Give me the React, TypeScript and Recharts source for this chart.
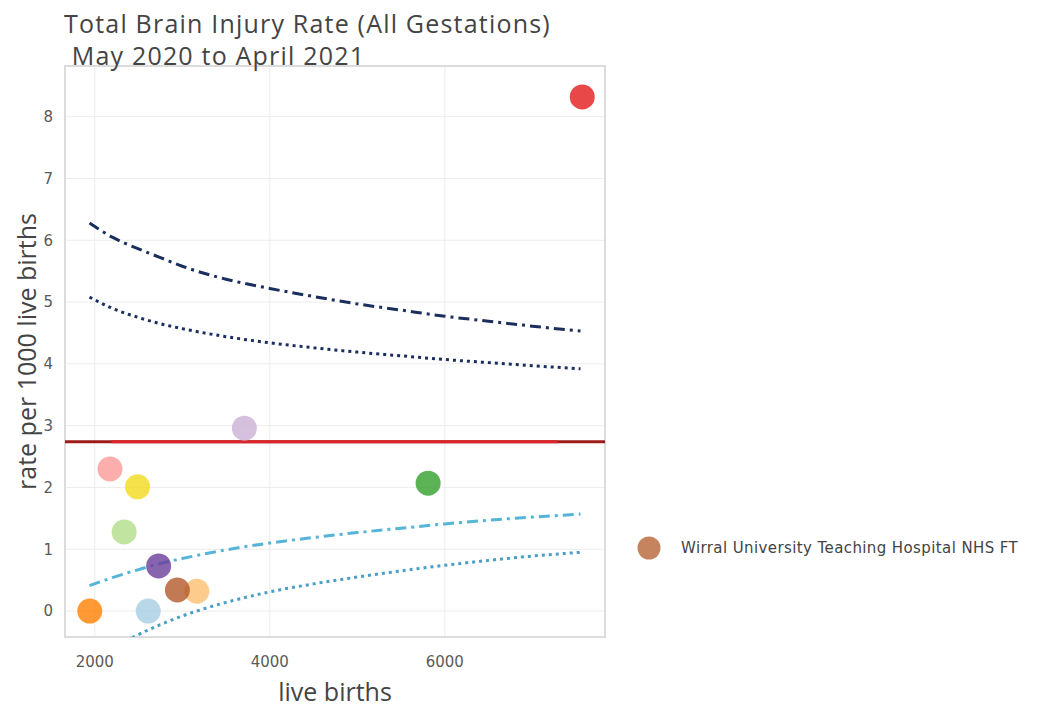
import React from "react";
import {
  ComposedChart,
  Scatter,
  Line,
  XAxis,
  YAxis,
  CartesianGrid,
  ReferenceLine,
  ReferenceArea,
  Cell,
} from "recharts";

// Units: live births vs brain injury rate per 1000 live births
const liveBirths = [1943, 2174, 2336, 2489, 2611, 2730, 3166, 3710, 5809, 7570];
const injuryRates = [0, 2.3, 1.28, 2.01, 0, 0.73, 0.32, 2.96, 2.07, 8.32];
const dotColours = [
  "#ff7f00",
  "#fb9a99",
  "#b2df8a",
  "#f2d91b",
  "#a6cee3",
  "#6a3d9a",
  "#fdbf6f",
  "#cab2d6",
  "#33a02c",
  "#e31a1c",
];

// Highlighted trust
const wirralName = "Wirral University Teaching Hospital NHS FT";
const wirralBirths = 2944;
const wirralRate = 0.34;
const wirralColour = "#b15928";

// National mean rate
const meanRate = 2.74;

// Funnel control limits
const funnelBirths = [1940, 2200, 2500, 2750, 3000, 3500, 4000, 4500, 5000, 5500, 6000, 6500, 7000, 7550];
const upper998 = [6.28, 6.05, 5.86, 5.72, 5.58, 5.37, 5.22, 5.09, 4.97, 4.87, 4.77, 4.69, 4.61, 4.53];
const upper95 = [5.08, 4.9, 4.75, 4.65, 4.57, 4.44, 4.34, 4.26, 4.19, 4.13, 4.07, 4.02, 3.97, 3.92];
const lower95 = [0.41, 0.54, 0.67, 0.77, 0.85, 0.99, 1.1, 1.19, 1.27, 1.34, 1.41, 1.47, 1.52, 1.57];
const lower998 = [-0.82, -0.61, -0.38, -0.22, -0.08, 0.14, 0.31, 0.44, 0.55, 0.65, 0.74, 0.82, 0.89, 0.95];

const xTicks = [2000, 4000, 6000];
const yTicks = [0, 1, 2, 3, 4, 5, 6, 7, 8];

const X_MIN = 1660;
const X_MAX = 7830;
const Y_MIN = -0.42;
const Y_MAX = 8.82;

const units = liveBirths.map((x, i) => ({ x, y: injuryRates[i] }));
const wirral = [{ x: wirralBirths, y: wirralRate }];
const funnel = (vals: number[]) => funnelBirths.map((x, i) => ({ x, y: vals[i] }));

const Dot = (props: any) => (
  <circle cx={props.cx} cy={props.cy} r={12.5} fill={props.fill} fillOpacity={0.8} />
);

const tickStyle = { fontFamily: "DejaVu Sans", fontSize: 15, fill: "#5a5a5a" };
const titleFont = { fontFamily: "Open Sans", fontSize: 25, fill: "#444" };

export default function App() {
  return (
    <div style={{ position: "relative", margin: -8, width: 1049, height: 719, background: "#fff" }}>
      <div
        style={{
          position: "absolute",
          left: 64,
          top: 7,
          fontFamily: "Open Sans",
          fontSize: 25,
          letterSpacing: 1.2,
          lineHeight: "32px",
          color: "#444",
          whiteSpace: "pre",
          zIndex: 2,
        }}
      >
        {"Total Brain Injury Rate (All Gestations)\n May 2020 to April 2021"}
      </div>
      <ComposedChart
        width={1049}
        height={719}
        margin={{ top: 66, right: 444, bottom: 18, left: 20 }}
      >
        <CartesianGrid stroke="#ececec" strokeWidth={1} />
        <XAxis
          type="number"
          dataKey="x"
          domain={[X_MIN, X_MAX]}
          ticks={xTicks}
          allowDataOverflow
          axisLine={false}
          tickLine={false}
          tickSize={0}
          tickMargin={19}
          tick={tickStyle}
          height={64}
          label={{ value: "live births", position: "insideBottom", offset: 0, style: titleFont }}
        />
        <YAxis
          type="number"
          dataKey="y"
          domain={[Y_MIN, Y_MAX]}
          ticks={yTicks}
          allowDataOverflow
          axisLine={false}
          tickLine={false}
          tickSize={0}
          tickMargin={12}
          tick={tickStyle}
          width={45}
          label={{
            value: "rate per 1000 live births",
            angle: -90,
            position: "insideLeft",
            offset: 7,
            style: { ...titleFont, textAnchor: "middle" },
          }}
        />
        <ReferenceArea
          x1={X_MIN}
          x2={X_MAX}
          y1={Y_MIN}
          y2={Y_MAX}
          fill="none"
          stroke="#dcdcdc"
          strokeWidth={2}
        />
        <Line data={funnel(upper998)} dataKey="y" type="monotone" stroke="#1b2f5e" strokeWidth={3}
          strokeDasharray="11 5 3 5" dot={false} legendType="none" isAnimationActive={false} />
        <Line data={funnel(upper95)} dataKey="y" type="monotone" stroke="#1b2f5e" strokeWidth={3}
          strokeDasharray="3 4" dot={false} legendType="none" isAnimationActive={false} />
        <Line data={funnel(lower95)} dataKey="y" type="monotone" stroke="#55b4d7" strokeWidth={3}
          strokeDasharray="11 5 3 5" dot={false} legendType="none" isAnimationActive={false} />
        <Line data={funnel(lower998)} dataKey="y" type="monotone" stroke="#4a9fc6" strokeWidth={3}
          strokeDasharray="3 4" dot={false} legendType="none" isAnimationActive={false} />
        <ReferenceLine y={meanRate} stroke="#9e1b1b" strokeWidth={3} />
        <ReferenceLine
          segment={[{ x: 2190, y: meanRate }, { x: 7290, y: meanRate }]}
          stroke="#d8262a"
          strokeWidth={3}
        />
        <Scatter data={units} shape={Dot} legendType="none" isAnimationActive={false}>
          {units.map((_, i) => (
            <Cell key={`unit-${i}`} fill={dotColours[i]} />
          ))}
        </Scatter>
        <Scatter
          name={wirralName}
          data={wirral}
          fill={wirralColour}
          shape={Dot}
          isAnimationActive={false}
        />
      </ComposedChart>
      {/* legend for the highlighted trust */}
      <div
        style={{
          position: "absolute",
          left: 636,
          top: 535,
          display: "flex",
          alignItems: "center",
          fontFamily: "DejaVu Sans",
          fontSize: 15,
          letterSpacing: 0.4,
          color: "#444",
        }}
      >
        <svg width={26} height={26} style={{ marginRight: 19 }}>
          <circle cx={13} cy={13} r={11.5} fill={wirralColour} fillOpacity={0.75} />
        </svg>
        <span>{wirralName}</span>
      </div>
    </div>
  );
}
